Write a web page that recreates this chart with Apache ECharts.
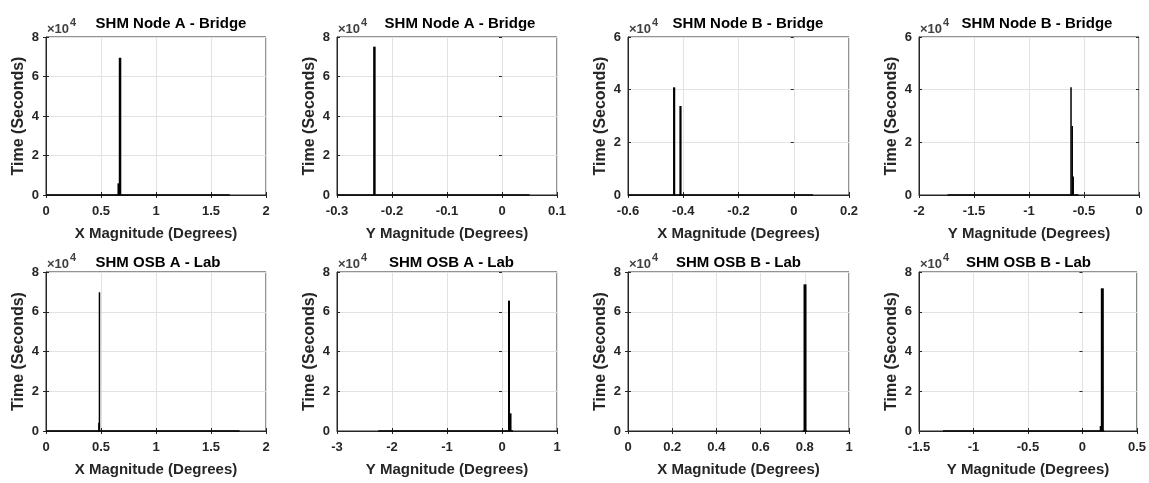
<!DOCTYPE html>
<html><head><meta charset="utf-8">
<script src="https://cdn.jsdelivr.net/npm/echarts@6/dist/echarts.min.js"></script>
<style>html,body{margin:0;padding:0;background:#fff}#c{width:1149px;height:483px}</style>
</head><body><div id="c"></div>
<script>
// ---------- data ----------
const panelTitles = ['SHM Node A - Bridge','SHM Node A - Bridge','SHM Node B - Bridge','SHM Node B - Bridge',
                     'SHM OSB A - Lab','SHM OSB A - Lab','SHM OSB B - Lab','SHM OSB B - Lab'];
const xAxisNames = ['X Magnitude (Degrees)','Y Magnitude (Degrees)','X Magnitude (Degrees)','Y Magnitude (Degrees)',
                    'X Magnitude (Degrees)','Y Magnitude (Degrees)','X Magnitude (Degrees)','Y Magnitude (Degrees)'];
const yAxisName = 'Time (Seconds)';
const xMin  = [0, -0.3, -0.6, -2, 0, -3, 0, -1.5];
const xMax  = [2,  0.1,  0.2,  0, 2,  1, 1,  0.5];
const xStep = [0.5, 0.1, 0.2, 0.5, 0.5, 1, 0.2, 0.5];
const yMax  = [80000, 80000, 60000, 60000, 80000, 80000, 80000, 80000];
const yStep = 20000;
const yScaleDivisor = 10000;

// spikes: [magnitude (deg), time (s)]
const nodeABridgeX = [[0.661, 5900], [0.673, 69500]];
const nodeABridgeY = [[-0.232, 75100]];
const nodeBBridgeX = [[-0.433, 40900], [-0.410, 33800]];
const nodeBBridgeY = [[-0.618, 40900], [-0.607, 26200], [-0.598, 7000]];
const osbALabX     = [[0.481, 4200], [0.486, 69800]];
const osbALabY     = [[0.127, 65600], [0.155, 8900]];
const osbBLabX     = [[0.801, 73800]];
const osbBLabY     = [[0.172, 2500], [0.182, 71800]];
// near-zero bins, extent [from, to] in degrees
const baselineRanges = [[0, 1.67], [-0.3, 0.05], [-0.6, 0.07], [-1.74, -0.55],
                        [0, 1.76], [-2.25, 0.2], [0.79, 0.81], [-1.28, 0.2]];

const spikeSets = [nodeABridgeX, nodeABridgeY, nodeBBridgeX, nodeBBridgeY, osbALabX, osbALabY, osbBLabX, osbBLabY];

// ---------- layout / style ----------
const FONT = 'Liberation Sans, Arial, Helvetica, sans-serif';
const AX = '#262626';
const colLeft = [46, 337, 628, 919], colWidth = [220, 220, 221, 220];
const rowTop = [37, 272], rowHeight = [158, 159];
const titleCenter = [171, 460, 748, 1037, 158, 451.5, 738.5, 1028.5];
const barWidths = [2.5, 2.5, 2.2, 1.5, 1.5, 2, 3, 3];

const grid = [], xAxis = [], yAxis = [], series = [], title = [];
const fmt = v => String(+(+v).toFixed(3));

for (let i = 0; i < 8; i++) {
  const r = Math.floor(i / 4), c = i % 4;
  grid.push({left: colLeft[c], top: rowTop[r], width: colWidth[c], height: rowHeight[r],
             show: true, borderColor: AX, borderWidth: 1, backgroundColor: 'transparent'});
  xAxis.push({gridIndex: i, type: 'value', position: 'bottom', min: xMin[i], max: xMax[i], interval: xStep[i],
    name: xAxisNames[i], nameLocation: 'middle', nameGap: 31,
    nameTextStyle: {fontFamily: FONT, fontWeight: 'bold', fontSize: 15, color: AX},
    axisLine: {show: true, onZero: false, lineStyle: {color: AX, width: 1}},
    axisTick: {show: true, inside: true, length: 3, lineStyle: {color: AX}},
    axisLabel: {margin: 10, fontFamily: FONT, fontSize: 13, fontWeight: 'bold', color: AX,
                showMinLabel: true, showMaxLabel: true, formatter: fmt},
    splitLine: {show: true, lineStyle: {color: '#e2e2e2', width: 1}}});
  xAxis.push({gridIndex: i, type: 'value', position: 'top', min: xMin[i], max: xMax[i], interval: xStep[i],
    axisLine: {show: false}, axisTick: {show: true, inside: true, length: 3, lineStyle: {color: AX}},
    axisLabel: {show: false}, splitLine: {show: false}});
  yAxis.push({gridIndex: i, type: 'value', position: 'left', min: 0, max: yMax[i], interval: yStep,
    name: yAxisName, nameLocation: 'middle', nameGap: 19, nameRotate: 90,
    nameTextStyle: {fontFamily: FONT, fontWeight: 'bold', fontSize: 16, color: AX},
    axisLine: {show: true, onZero: false, lineStyle: {color: AX, width: 1}},
    axisTick: {show: true, inside: true, length: 3, lineStyle: {color: AX}},
    axisLabel: {margin: 7, fontFamily: FONT, fontSize: 13, fontWeight: 'bold', color: AX,
                showMinLabel: true, showMaxLabel: true, formatter: v => String(v / yScaleDivisor)},
    splitLine: {show: true, lineStyle: {color: '#e2e2e2', width: 1}}});
  yAxis.push({gridIndex: i, type: 'value', position: 'right', min: 0, max: yMax[i], interval: yStep,
    axisLine: {show: false}, axisTick: {show: true, inside: true, length: 3, lineStyle: {color: AX}},
    axisLabel: {show: false}, splitLine: {show: false}});

  series.push({type: 'line', xAxisIndex: 2 * i, yAxisIndex: 2 * i, symbol: 'none', silent: true,
    data: [[baselineRanges[i][0], 0], [baselineRanges[i][1], 0]],
    lineStyle: {color: '#000', width: 1.5}, z: 3});
  series.push({type: 'bar', xAxisIndex: 2 * i, yAxisIndex: 2 * i, data: spikeSets[i],
    barWidth: barWidths[i], itemStyle: {color: '#000'}, silent: true, z: 4});

  title.push({text: panelTitles[i], left: titleCenter[i], top: r === 0 ? 16 : 255, textAlign: 'center', padding: 0,
    textStyle: {fontFamily: FONT, fontWeight: 'bold', fontSize: 15, color: '#000'}});
  title.push({text: '{b|×10}{s|4}', left: colLeft[c] + 1, top: rowTop[r] - 20, padding: 0,
    textStyle: {rich: {
      b: {fontFamily: FONT, fontSize: 13, color: '#404040', lineHeight: 19, verticalAlign: 'bottom'},
      s: {fontFamily: FONT, fontSize: 11, color: '#404040', lineHeight: 19, verticalAlign: 'top', padding: [0, 0, 0, 1]}
    }}});
}

const chart = echarts.init(document.getElementById('c'), null, {renderer: 'canvas'});
chart.setOption({animation: false, backgroundColor: '#fff', title, grid, xAxis, yAxis, series});
</script>
</body></html>
